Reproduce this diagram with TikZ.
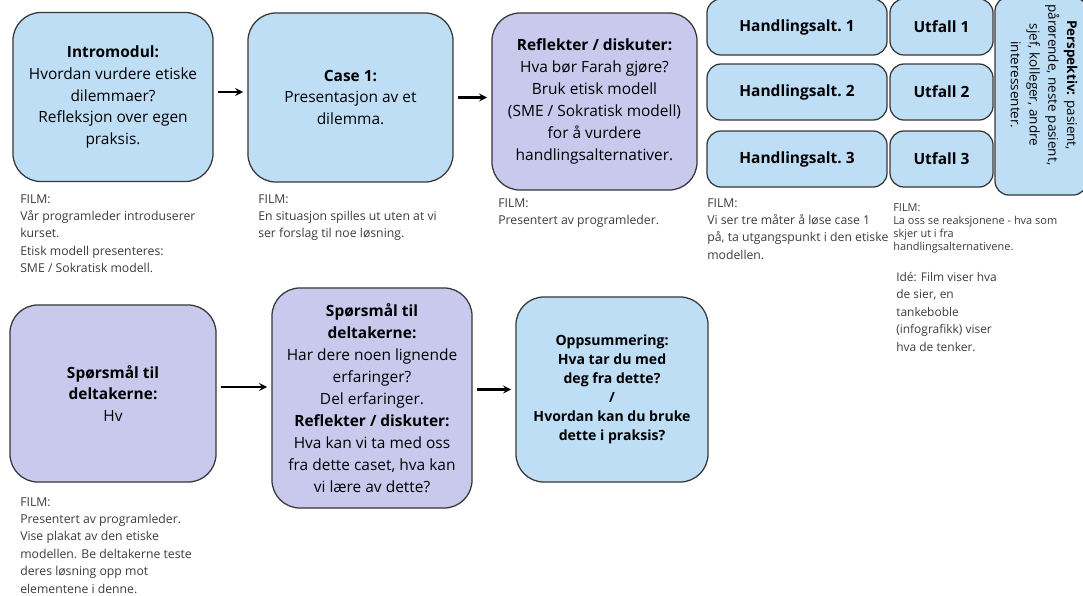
\documentclass[tikz,border=0pt]{standalone}
\usepackage{fontspec}
\setmainfont{Open Sans}
\usepackage{tikz}
\usetikzlibrary{arrows,positioning,calc}
\definecolor{boxblue}{RGB}{190,222,246}
\definecolor{boxpurple}{RGB}{200,201,237}
\definecolor{edgegray}{RGB}{55,55,55}
\definecolor{notegray}{RGB}{60,60,60}

\begin{document}
\begin{tikzpicture}[
x=0.025cm, y=-0.025cm,
font=\fontsize{11}{15.6}\selectfont,
card/.style={draw=edgegray,line width=0.9pt,rounded corners=0.7cm,align=center,inner sep=2pt},
bluecard/.style={card,fill=boxblue},
purplecard/.style={card,fill=boxpurple},
cell/.style={draw=edgegray,line width=0.9pt,fill=boxblue,rounded corners=0.35cm,align=center,font=\fontsize{11}{13}\selectfont\bfseries},
note/.style={anchor=north west,align=left,inner sep=0pt,text=notegray,font=\fontsize{8.7}{12.4}\selectfont},
flow/.style={->,>=stealth,line width=1.5pt,shorten >=3pt,shorten <=3pt}]
    \useasboundingbox (0,0) rectangle (1083,595);

    % Top row
    \node (intro) [bluecard,minimum width=5cm,minimum height=4.225cm] at (113,97)
        {\textbf{Intromodul:}\\ Hvordan vurdere etiske\\ dilemmaer?\\ Refleksjon over egen\\ praksis.};
    \node (case) [bluecard,minimum width=5.125cm,minimum height=4.225cm] at (350.5,97.5)
        {\textbf{Case 1:}\\ Presentasjon av et\\ dilemma.};
    \node (reflect) [purplecard,minimum width=5.125cm,minimum height=4.425cm] at (594.5,101.5)
        {\textbf{Reflekter / diskuter:}\\ Hva bør Farah gjøre?\\ Bruk etisk modell\\ (SME / Sokratisk modell)\\ for å vurdere\\ handlingsalternativer.};

    % Action alternatives and outcomes
    \foreach \i/\y in {1/27,2/92,3/159}{
        \node (alt\i) [cell,minimum width=4.5cm,minimum height=1.4cm] at (797,\y) {Handlingsalt.\ \i};
        \node (out\i) [cell,minimum width=2.575cm,minimum height=1.4cm] at (941.5,\y) {Utfall \i};
    }
    \node (persp) [cell,minimum width=2.3cm,minimum height=4.95cm] at (1041,96) {};
    \node (persptext) [rotate=-90,align=center,font=\fontsize{9.6}{13.3}\selectfont] at (1044,85)
        {\textbf{Perspektiv:} pasient,\\ pårørende, neste pasient,\\ sjef, kolleger, andre\\ interessenter.};

    % Notes under the top row
    \node (introfilm) [note] at (20,194) {FILM:\\ Vår programleder introduserer\\ kurset.\\ Etisk modell presenteres:\\ SME / Sokratisk modell.};
    \node (casefilm) [note] at (258,194) {FILM:\\ En situasjon spilles ut uten at vi\\ ser forslag til noe løsning.};
    \node (reflectfilm) [note] at (498,198) {FILM:\\ Presentert av programleder.};
    \node (altfilm) [note] at (707,198) {FILM:\\ Vi ser tre måter å løse case 1\\ på, ta utgangspunkt i den etiske\\ modellen.};
    \node (outfilm) [note,font=\fontsize{7.8}{9.4}\selectfont] at (893,203) {FILM:\\ La oss se reaksjonene - hva som\\ skjer ut i fra\\ handlingsalternativene.};
    \node (idea) [note,font=\fontsize{8.5}{12.4}\selectfont] at (896,272) {Idé: Film viser hva\\ de sier, en\\ tankeboble\\ (infografikk) viser\\ hva de tenker.};

    % Bottom row
    \node (ask) [purplecard,minimum width=5.15cm,minimum height=4.425cm] at (113,393.5)
        {\textbf{Spørsmål til}\\ \textbf{deltakerne:}\\ Hv};
    \node (share) [purplecard,minimum width=5cm,minimum height=5.5cm] at (372,398)
        {\textbf{Spørsmål til}\\ \textbf{deltakerne:}\\ Har dere noen lignende\\ erfaringer?\\ Del erfaringer.\\ \textbf{Reflekter / diskuter:}\\ Hva kan vi ta med oss\\ fra dette caset, hva kan\\ vi lære av dette?};
    \node (sum) [bluecard,minimum width=4.8cm,minimum height=4.625cm,font=\fontsize{10}{13.5}\selectfont\bfseries] at (612,389.5)
        {Oppsummering:\\ Hva tar du med\\ deg fra dette?\\ /\\ Hvordan kan du bruke\\ dette i praksis?};
    \node (askfilm) [note] at (20,497) {FILM:\\ Presentert av programleder.\\ Vise plakat av den etiske\\ modellen. Be deltakerne teste\\ deres løsning opp mot\\ elementene i denne.};

    % Arrows
    \draw[flow] (intro.east |- 0,92) -- (case.west |- 0,92);
    \draw[flow] (case) -- (case -| reflect.west);
    \draw[flow] (ask.east |- 0,387) -- (share.west |- 0,387);
    \draw[flow] (share.east |- sum) -- (sum);
\end{tikzpicture}
\end{document}
